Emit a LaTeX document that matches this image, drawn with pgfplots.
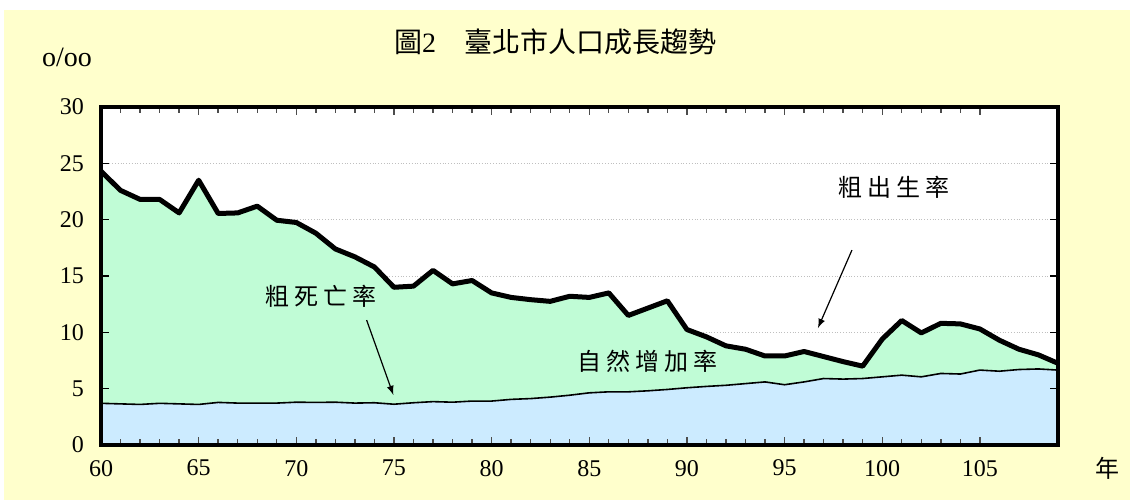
\documentclass[border=0pt]{standalone}
\usepackage{fontspec}
\setmainfont{Liberation Serif}
\newfontfamily\cjk{Noto Sans CJK TC}
\usepackage{pgfplots}
\pgfplotsset{compat=1.18}
\definecolor{cream}{HTML}{FFFFCC}
\definecolor{mint}{HTML}{C0FCD6}
\definecolor{sky}{HTML}{CCEBFF}
\begin{document}
\begin{tikzpicture}
\path[use as bounding box, fill=white] (0,0) rectangle (565pt,250pt);
\fill[cream] (2pt,0) rectangle (565pt,245pt);
\node[font=\fontsize{14}{16}\selectfont] at (277.5pt,229pt) {\cjk 圖\rmfamily 2\hspace{1em}\cjk 臺北市人口成長趨勢};
\node[font=\fontsize{14}{16}\selectfont] at (33.5pt,221.5pt) {o/oo};
\node[font=\fontsize{12}{14}\selectfont] at (553.5pt,16pt) {\cjk 年};
\begin{axis}[
  axis on top,
  at={(50.5pt,27.5pt)}, anchor=south west,
  scale only axis, width=478.5pt, height=169pt,
  xmin=60, xmax=109, ymin=0, ymax=30,
  xtick={60,65,...,105}, minor x tick num=4,
  ytick={0,5,...,30},
  tick align=inside,
  major tick length=4pt, minor tick length=3pt,
  x tick style={black!70, line width=0.7pt},
  y tick style={black, line width=0.8pt},
  axis line style={line width=1.8pt},
  axis background/.style={fill=white},
  ticklabel style={font=\fontsize{12}{14}\selectfont},
  xticklabel style={yshift=-4pt},
  yticklabel style={xshift=-5pt},
  /pgf/number format/assume math mode=true,
]
\draw[densely dotted, black!25, line width=0.4pt] (axis cs:60,5) -- (axis cs:109,5);
\draw[densely dotted, black!25, line width=0.4pt] (axis cs:60,10) -- (axis cs:109,10);
\draw[densely dotted, black!25, line width=0.4pt] (axis cs:60,15) -- (axis cs:109,15);
\draw[densely dotted, black!25, line width=0.4pt] (axis cs:60,20) -- (axis cs:109,20);
\draw[densely dotted, black!25, line width=0.4pt] (axis cs:60,25) -- (axis cs:109,25);
\addplot[fill=mint, draw=none] coordinates {
(60,24.3) (61,22.6) (62,21.8) (63,21.8) (64,20.6) (65,23.5) (66,20.55) (67,20.6) (68,21.2) (69,19.95)
(70,19.75) (71,18.8) (72,17.4) (73,16.7) (74,15.8) (75,14.0) (76,14.1) (77,15.5) (78,14.3) (79,14.6)
(80,13.5) (81,13.1) (82,12.9) (83,12.75) (84,13.2) (85,13.1) (86,13.5) (87,11.5) (88,12.15) (89,12.8)
(90,10.25) (91,9.6) (92,8.8) (93,8.5) (94,7.9) (95,7.9) (96,8.3) (97,7.85) (98,7.4) (99,7.0)
(100,9.4) (101,11.05) (102,9.95) (103,10.8) (104,10.75) (105,10.3) (106,9.3) (107,8.5) (108,8.0) (109,7.25)
} \closedcycle;
\addplot[fill=sky, draw=none] coordinates {
(60,3.7) (61,3.65) (62,3.6) (63,3.7) (64,3.65) (65,3.6) (66,3.78) (67,3.72) (68,3.72) (69,3.72)
(70,3.8) (71,3.78) (72,3.8) (73,3.72) (74,3.75) (75,3.62) (76,3.75) (77,3.85) (78,3.8) (79,3.9)
(80,3.9) (81,4.05) (82,4.12) (83,4.25) (84,4.42) (85,4.63) (86,4.72) (87,4.72) (88,4.81) (89,4.93)
(90,5.08) (91,5.2) (92,5.3) (93,5.45) (94,5.6) (95,5.35) (96,5.6) (97,5.9) (98,5.85) (99,5.9)
(100,6.05) (101,6.2) (102,6.05) (103,6.35) (104,6.3) (105,6.65) (106,6.55) (107,6.7) (108,6.75) (109,6.65)
} \closedcycle;
\addplot[black, line width=0.8pt] coordinates {
(60,3.7) (61,3.65) (62,3.6) (63,3.7) (64,3.65) (65,3.6) (66,3.78) (67,3.72) (68,3.72) (69,3.72)
(70,3.8) (71,3.78) (72,3.8) (73,3.72) (74,3.75) (75,3.62) (76,3.75) (77,3.85) (78,3.8) (79,3.9)
(80,3.9) (81,4.05) (82,4.12) (83,4.25) (84,4.42) (85,4.63) (86,4.72) (87,4.72) (88,4.81) (89,4.93)
(90,5.08) (91,5.2) (92,5.3) (93,5.45) (94,5.6) (95,5.35) (96,5.6) (97,5.9) (98,5.85) (99,5.9)
(100,6.05) (101,6.2) (102,6.05) (103,6.35) (104,6.3) (105,6.65) (106,6.55) (107,6.7) (108,6.75) (109,6.65)
};
\addplot[black, line width=2.5pt, line join=round] coordinates {
(60,24.3) (61,22.6) (62,21.8) (63,21.8) (64,20.6) (65,23.5) (66,20.55) (67,20.6) (68,21.2) (69,19.95)
(70,19.75) (71,18.8) (72,17.4) (73,16.7) (74,15.8) (75,14.0) (76,14.1) (77,15.5) (78,14.3) (79,14.6)
(80,13.5) (81,13.1) (82,12.9) (83,12.75) (84,13.2) (85,13.1) (86,13.5) (87,11.5) (88,12.15) (89,12.8)
(90,10.25) (91,9.6) (92,8.8) (93,8.5) (94,7.9) (95,7.9) (96,8.3) (97,7.85) (98,7.4) (99,7.0)
(100,9.4) (101,11.05) (102,9.95) (103,10.8) (104,10.75) (105,10.3) (106,9.3) (107,8.5) (108,8.0) (109,7.25)
};
\node[font=\fontsize{12}{14}\selectfont\cjk] at (axis cs:100.6,22.9) {粗\hspace{2.5pt}出\hspace{2.5pt}生\hspace{2.5pt}率};
\node[font=\fontsize{12}{14}\selectfont\cjk] at (axis cs:71.26,13.2) {粗\hspace{2.5pt}死\hspace{2.5pt}亡\hspace{2.5pt}率};
\node[font=\fontsize{12}{14}\selectfont\cjk] at (axis cs:88.0,7.45) {自\hspace{2.5pt}然\hspace{2.5pt}增\hspace{2.5pt}加\hspace{2.5pt}率};
\draw[-latex, line width=0.6pt] (axis cs:98.45,17.3) -- (axis cs:96.71,10.38);
\draw[-latex, line width=0.6pt] (axis cs:73.6,11.09) -- (axis cs:74.97,4.44);
\end{axis}
\end{tikzpicture}
\end{document}
